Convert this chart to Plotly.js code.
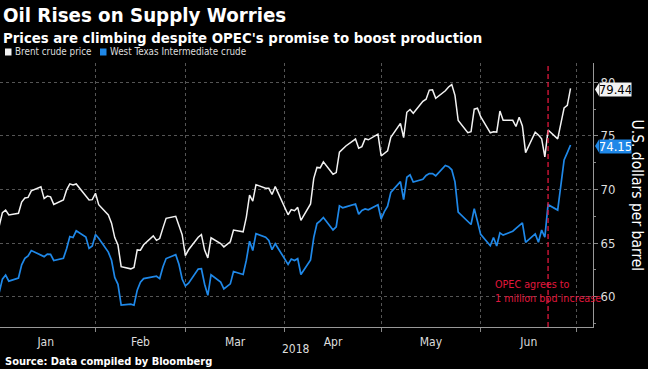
<!DOCTYPE html>
<html><head><meta charset="utf-8">
<script src="https://cdn.plot.ly/plotly-3.0.1.min.js"></script>
<style>html,body{margin:0;padding:0;background:#000;} #chart{width:648px;height:369px;}</style>
</head><body><div id="chart"></div>
<script>
const dates = [
'2018-01-02','2018-01-03','2018-01-04','2018-01-05','2018-01-08','2018-01-09','2018-01-10','2018-01-11','2018-01-12','2018-01-15','2018-01-16','2018-01-17','2018-01-18','2018-01-19','2018-01-22','2018-01-23','2018-01-24','2018-01-25','2018-01-26','2018-01-29','2018-01-30','2018-01-31',
'2018-02-01','2018-02-02','2018-02-05','2018-02-06','2018-02-07','2018-02-08','2018-02-09','2018-02-12','2018-02-13','2018-02-14','2018-02-15','2018-02-16','2018-02-19','2018-02-20','2018-02-21','2018-02-22','2018-02-23','2018-02-26','2018-02-27','2018-02-28',
'2018-03-01','2018-03-02','2018-03-05','2018-03-06','2018-03-07','2018-03-08','2018-03-09','2018-03-12','2018-03-13','2018-03-14','2018-03-15','2018-03-16','2018-03-19','2018-03-20','2018-03-21','2018-03-22','2018-03-23','2018-03-26','2018-03-27','2018-03-28','2018-03-29',
'2018-04-02','2018-04-03','2018-04-04','2018-04-05','2018-04-06','2018-04-09','2018-04-10','2018-04-11','2018-04-12','2018-04-13','2018-04-16','2018-04-17','2018-04-18','2018-04-19','2018-04-20','2018-04-23','2018-04-24','2018-04-25','2018-04-26','2018-04-27','2018-04-30',
'2018-05-01','2018-05-02','2018-05-03','2018-05-04','2018-05-07','2018-05-08','2018-05-09','2018-05-10','2018-05-11','2018-05-14','2018-05-15','2018-05-16','2018-05-17','2018-05-18','2018-05-21','2018-05-22','2018-05-23','2018-05-24','2018-05-25','2018-05-28','2018-05-29','2018-05-30','2018-05-31',
'2018-06-01','2018-06-04','2018-06-05','2018-06-06','2018-06-07','2018-06-08','2018-06-11','2018-06-12','2018-06-13','2018-06-14','2018-06-15','2018-06-18','2018-06-19','2018-06-20','2018-06-21','2018-06-22','2018-06-25','2018-06-26','2018-06-27','2018-06-28','2018-06-29'
];
const brent = [
66.57,67.84,68.07,67.62,67.78,68.82,69.20,69.26,69.87,70.26,69.15,69.38,69.31,68.61,69.03,69.96,70.53,70.42,70.52,69.46,69.02,69.05,
69.65,68.58,67.62,66.86,65.51,64.81,62.79,62.59,62.72,64.36,64.33,64.84,65.67,65.25,65.42,66.39,67.31,67.50,66.63,65.78,
63.83,64.37,65.54,65.79,64.34,63.61,65.49,64.95,64.64,64.89,65.12,66.21,66.05,67.42,69.47,68.91,70.45,70.12,70.11,69.53,70.27,
67.64,68.12,68.02,68.33,67.11,68.65,71.04,72.06,72.02,72.58,71.42,71.58,73.48,73.78,74.06,74.71,73.86,74.00,74.74,74.64,75.17,
73.13,73.36,73.62,74.87,76.17,74.85,77.21,77.47,77.12,78.23,78.43,79.28,79.30,78.51,79.22,79.57,79.80,78.79,76.44,75.30,75.39,77.50,77.59,
76.79,75.29,75.38,75.36,77.32,76.46,76.46,75.88,76.74,75.94,73.44,75.34,75.08,74.74,73.05,75.55,74.73,76.31,77.62,77.85,79.44
];
const wti = [
60.37,61.63,62.01,61.44,61.73,62.96,63.57,63.80,64.30,null,63.73,63.97,63.95,63.37,63.57,64.47,65.61,65.51,66.14,65.56,64.50,64.73,
65.80,65.45,64.15,63.39,61.79,61.15,59.20,59.29,59.19,60.60,61.34,61.68,null,61.90,61.68,62.77,63.55,63.91,63.01,61.64,
60.99,61.25,62.57,62.60,61.15,60.12,62.04,61.36,60.71,60.96,61.19,62.34,62.06,63.40,65.17,64.30,65.88,65.55,65.25,64.38,64.94,
63.01,63.51,63.37,63.54,62.06,63.42,65.51,66.82,67.07,67.39,66.22,66.52,68.47,68.29,68.38,68.64,67.70,68.05,68.19,68.10,68.57,
67.25,67.93,68.43,69.72,70.73,69.06,71.14,71.36,70.70,70.96,71.31,71.49,71.49,71.28,72.24,72.13,71.84,70.71,67.88,null,66.73,68.21,67.04,
65.81,64.75,65.52,64.73,65.95,65.74,66.10,66.36,66.64,66.89,65.06,65.85,65.07,66.22,65.54,68.58,68.08,70.53,72.76,73.45,74.15
];
const seriesNames = ['Brent crude price', 'West Texas Intermediate crude'];
const lastValues = [79.44, 74.15];
const lastLabels = ['79.44', '74.15'];
const yTicks = [60, 65, 70, 75, 80];
const yMinorTicks = [57.5, 62.5, 67.5, 72.5, 77.5];
const xRange = ['2018-01-02 06:00', '2018-07-06 00:00'];
const yRange = [57.16, 81.81];
const opecDate = '2018-06-22';
const opecText = 'OPEC agrees to<br>1 million bpd increase';
const titleText = 'Oil Rises on Supply Worries';
const subtitleText = "Prices are climbing despite OPEC's promise to boost production";
const sourceText = 'Source: Data compiled by Bloomberg';
const yTitle = 'U.S. dollars per barrel';
const xTitle = '2018';

const WHITE = '#f2f2f2', BLUE = '#1f88e8', RED = '#e0173c';
const FONT = 'DejaVu Sans Condensed, DejaVu Sans, sans-serif';

const W = 648, H = 369, M = {l: 0, r: 55, t: 63, b: 42};
const PW = W - M.l - M.r, PH = H - M.t - M.b;
const px = x => (x - M.l) / PW;
const py = y => (H - M.b - y) / PH;

const traces = [
  {x: dates, y: brent, name: seriesNames[0], type: 'scatter', mode: 'lines', line: {color: WHITE, width: 1.5}},
  {x: dates, y: wti, name: seriesNames[1], type: 'scatter', mode: 'lines', connectgaps: true, line: {color: BLUE, width: 1.7}}
];

const boxColors = [WHITE, BLUE];
const textColors = ['#000', '#fff'];
const shapes = [
  {type: 'line', xref: 'x', yref: 'paper', x0: opecDate, x1: opecDate, y0: 0, y1: 1,
   line: {color: RED, width: 1.3, dash: '5px,3px'}},
  {type: 'rect', xref: 'paper', yref: 'paper', x0: px(5), x1: px(11.5), y0: py(55.5), y1: py(48.5), fillcolor: WHITE, line: {width: 0}},
  {type: 'rect', xref: 'paper', yref: 'paper', x0: px(100), x1: px(106.5), y0: py(55.5), y1: py(48.5), fillcolor: BLUE, line: {width: 0}}
];
lastValues.forEach((v, i) => {
  shapes.push({type: 'path', xref: 'paper', xsizemode: 'pixel', xanchor: 1, yref: 'y', ysizemode: 'pixel', yanchor: v,
    path: 'M 2 -1 L 6 5.5 L 6 -7.5 Z', fillcolor: boxColors[i], line: {width: 0}});
});

const annotations = [
  {xref: 'paper', yref: 'paper', x: px(1), y: py(15), xanchor: 'left', yanchor: 'middle', showarrow: false,
   text: '<b>' + titleText + '</b>', font: {family: FONT, size: 20.3, color: '#fff'}},
  {xref: 'paper', yref: 'paper', x: px(1), y: py(37), xanchor: 'left', yanchor: 'middle', showarrow: false,
   text: '<b>' + subtitleText + '</b>', font: {family: FONT, size: 14.8, color: '#fff'}},
  {xref: 'paper', yref: 'paper', x: px(13), y: py(52), xanchor: 'left', yanchor: 'middle', showarrow: false,
   text: seriesNames[0], font: {family: FONT, size: 9.8, color: '#ddd'}},
  {xref: 'paper', yref: 'paper', x: px(108), y: py(52), xanchor: 'left', yanchor: 'middle', showarrow: false,
   text: seriesNames[1], font: {family: FONT, size: 9.8, color: '#ddd'}},
  {xref: 'paper', yref: 'paper', x: px(3), y: py(361), xanchor: 'left', yanchor: 'middle', showarrow: false,
   text: '<b>' + sourceText + '</b>', font: {family: FONT, size: 11, color: '#fff'}},
  {xref: 'paper', yref: 'paper', x: px(637), y: py(195.5), xanchor: 'center', yanchor: 'middle', showarrow: false,
   textangle: 90, text: yTitle, font: {family: FONT, size: 15.5, color: '#fff'}},
  {xref: 'paper', yref: 'paper', x: px(296), y: py(349), xanchor: 'center', yanchor: 'middle', showarrow: false,
   text: xTitle, font: {family: FONT, size: 12, color: '#ddd'}},
  {xref: 'paper', yref: 'y', x: px(493), y: 60.44, xanchor: 'left', yanchor: 'middle', showarrow: false, align: 'left',
   text: opecText, font: {family: FONT, size: 10.7, color: RED}}
];
lastValues.forEach((v, i) => {
  annotations.push({xref: 'paper', yref: 'y', x: 1, xshift: 6, y: v, yshift: -1, xanchor: 'left', yanchor: 'middle', showarrow: false,
    width: 31, height: 13, borderpad: 0, bgcolor: boxColors[i],
    text: lastLabels[i], font: {family: FONT, size: 13, color: textColors[i]}});
});

const layout = {
  width: W, height: H, margin: M,
  paper_bgcolor: '#000', plot_bgcolor: '#000',
  showlegend: false, hovermode: false,
  font: {family: FONT, color: '#ddd'},
  xaxis: {
    type: 'date', range: xRange, dtick: 'M1', tick0: '2018-01-01', ticklabelmode: 'period', tickformat: '%b',
    showgrid: true, gridcolor: '#555', griddash: 'dot', gridwidth: 1,
    ticks: 'outside', ticklen: 4, tickcolor: '#888',
    showline: true, linecolor: '#999', linewidth: 1, zeroline: false,
    tickfont: {family: FONT, size: 12, color: '#ddd'}
  },
  yaxis: {
    side: 'right', range: yRange, tickmode: 'array', tickvals: yTicks, ticktext: yTicks.map(String),
    showgrid: true, gridcolor: '#555', griddash: 'dot', gridwidth: 1,
    ticks: 'outside', ticklen: 4, tickcolor: '#888',
    minor: {tickmode: 'array', tickvals: yMinorTicks, ticks: 'outside', ticklen: 2, tickcolor: '#888', showgrid: false},
    showline: true, linecolor: '#999', linewidth: 1, zeroline: false,
    tickfont: {family: FONT, size: 13, color: '#ddd'}
  },
  shapes: shapes,
  annotations: annotations
};

Plotly.newPlot('chart', traces, layout, {displayModeBar: false, staticPlot: true});
</script>
</body></html>
